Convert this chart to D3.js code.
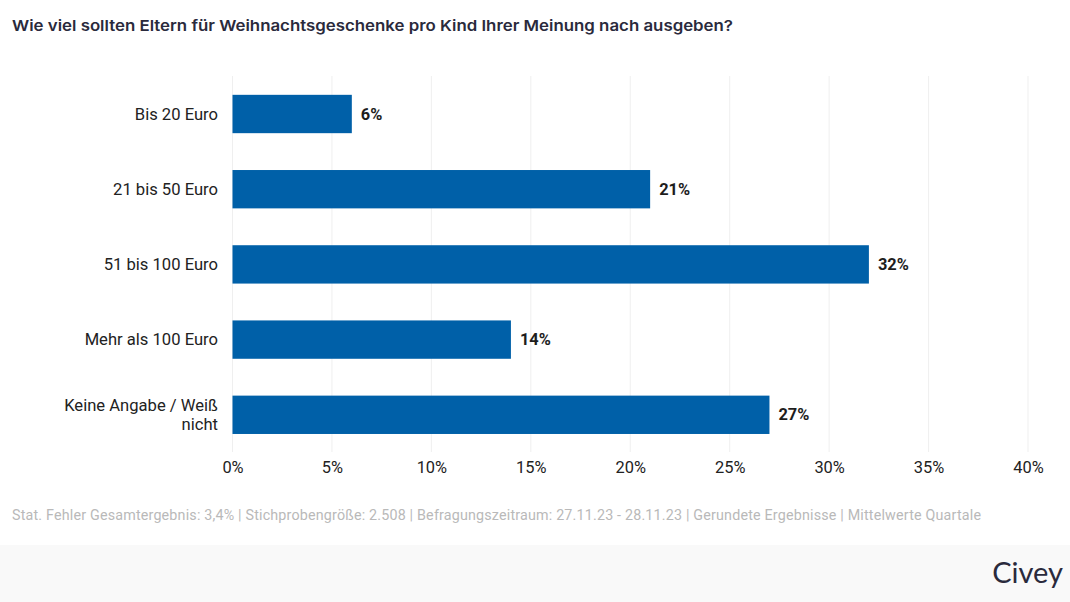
<!DOCTYPE html>
<html><head><meta charset="utf-8">
<script src="https://cdn.jsdelivr.net/npm/d3@7/dist/d3.min.js"></script>
<style>html,body{margin:0;padding:0;background:#fff;overflow:hidden}svg{display:block}</style>
</head><body><svg id="c" width="1070" height="602"></svg>
<script>
const categories = ["Bis 20 Euro","21 bis 50 Euro","51 bis 100 Euro","Mehr als 100 Euro","Keine Angabe / Weiß nicht"];
const values = [6,21,32,14,27];
const tickValues = [0,5,10,15,20,25,30,35,40];
const titleText = "Wie viel sollten Eltern für Weihnachtsgeschenke pro Kind Ihrer Meinung nach ausgeben?";
const footnoteText = "Stat. Fehler Gesamtergebnis: 3,4% | Stichprobengröße: 2.508 | Befragungszeitraum: 27.11.23 - 28.11.23 | Gerundete Ergebnisse | Mittelwerte Quartale";
const brandText = "Civey";

const svg = d3.select("#c");
const x = d3.scaleLinear().domain([0,40]).range([232.5,1028]);
const y = d3.scaleBand().domain(categories).range([76.4,452.4]).paddingInner(0.49).paddingOuter(0.245);
const F = "Roboto, sans-serif";

svg.append("rect").attr("x",0).attr("y",545).attr("width",1070).attr("height",57).attr("fill","#f9f9f9");
svg.append("text").attr("x",12).attr("y",31).attr("font-family","Inter, sans-serif").attr("font-weight",600)
  .attr("font-size",15.2).attr("fill","#2a2a3c").attr("textLength",721).attr("lengthAdjust","spacingAndGlyphs").text(titleText);

svg.append("g").selectAll("line").data(tickValues).join("line")
  .attr("x1",d=>x(d)).attr("x2",d=>x(d)).attr("y1",76).attr("y2",452)
  .attr("stroke","#efefef").attr("stroke-width",1);

const ax = d3.axisBottom(x).tickValues(tickValues).tickFormat(d=>d+"%").tickSize(0).tickPadding(0);
const axG = svg.append("g").attr("transform","translate(0,473)").call(ax);
axG.select(".domain").remove();
axG.selectAll("text").attr("font-family",F).attr("font-size",16.4).attr("fill","#222").attr("dy",0).attr("y",0);

svg.append("g").selectAll("rect").data(values).join("rect")
  .attr("x",x(0)).attr("y",(d,i)=>y(categories[i])).attr("width",d=>x(d)-x(0)).attr("height",y.bandwidth()).attr("fill","#0060a8");

svg.append("g").selectAll("text").data(values).join("text")
  .attr("x",d=>x(d)+9).attr("y",(d,i)=>y(categories[i])+y.bandwidth()/2+5.5)
  .attr("font-family",F).attr("font-weight",700).attr("font-size",16.4).attr("fill","#1d1d1d").text(d=>d+"%");

const lab = svg.append("g").selectAll("text").data(categories).join("text")
  .attr("text-anchor","end").attr("font-family",F).attr("font-size",16.6).attr("fill","#222");
lab.each(function(d){
  const t = d3.select(this), yc = y(d)+y.bandwidth()/2;
  const lines = d.length>20 ? [d.slice(0,d.indexOf(" nicht")),"nicht"] : [d];
  lines.forEach((s,i)=>t.append("tspan").attr("x",218).attr("y",yc+5.5+(i-(lines.length-1)/2)*19).text(s));
});

svg.append("text").attr("x",12).attr("y",520).attr("font-family",F).attr("font-size",14.3).attr("fill","#b9b9b9").attr("textLength",969).text(footnoteText);
svg.append("text").attr("x",1063).attr("y",583).attr("text-anchor","end").attr("font-family","Lato, sans-serif").attr("font-size",29).attr("fill","#2a2a3c").text(brandText);
</script></body></html>
